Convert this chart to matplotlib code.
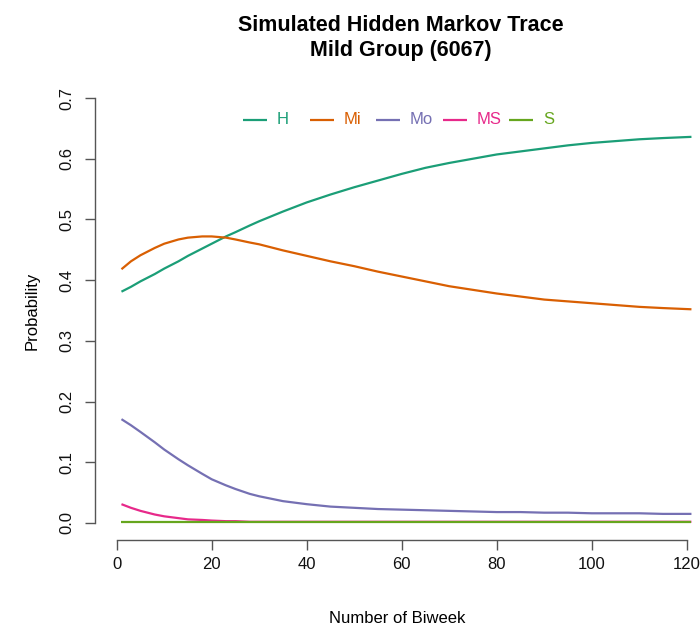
import matplotlib
matplotlib.use("Agg")
import matplotlib.pyplot as plt

plt.rcParams['font.family'] = ['Liberation Sans', 'DejaVu Sans']

# ---- data ----
biweek = [1, 3, 5, 8, 10, 13, 15, 18, 20, 23, 25, 28, 30, 35, 40, 45, 50, 55,
          60, 65, 70, 75, 80, 85, 90, 95, 100, 105, 110, 115, 121]
H = [0.381, 0.389, 0.398, 0.410, 0.419, 0.431, 0.440, 0.452, 0.460, 0.472,
     0.479, 0.490, 0.497, 0.513, 0.528, 0.541, 0.553, 0.564, 0.575, 0.585,
     0.593, 0.600, 0.607, 0.612, 0.617, 0.622, 0.626, 0.629, 0.632, 0.634, 0.636]
Mi = [0.418, 0.431, 0.441, 0.453, 0.460, 0.467, 0.470, 0.472, 0.472, 0.470,
      0.467, 0.462, 0.459, 0.449, 0.440, 0.431, 0.423, 0.414, 0.406, 0.398,
      0.390, 0.384, 0.378, 0.373, 0.368, 0.365, 0.362, 0.359, 0.356, 0.354, 0.352]
Mo = [0.171, 0.161, 0.150, 0.133, 0.121, 0.105, 0.095, 0.081, 0.072, 0.062,
      0.056, 0.048, 0.044, 0.036, 0.031, 0.027, 0.025, 0.023, 0.022, 0.021,
      0.020, 0.019, 0.018, 0.018, 0.017, 0.017, 0.016, 0.016, 0.016, 0.015, 0.015]
MS = [0.031, 0.025, 0.020, 0.014, 0.011, 0.008, 0.006, 0.005, 0.004, 0.003,
      0.003, 0.002, 0.002, 0.002, 0.002, 0.002, 0.002, 0.002, 0.002, 0.002,
      0.002, 0.002, 0.002, 0.002, 0.002, 0.002, 0.002, 0.002, 0.002, 0.002, 0.002]
S = [0.002, 0.002, 0.002, 0.002, 0.002, 0.002, 0.002, 0.002, 0.002, 0.002,
     0.002, 0.002, 0.002, 0.002, 0.002, 0.002, 0.002, 0.002, 0.002, 0.002,
     0.002, 0.002, 0.002, 0.002, 0.002, 0.002, 0.002, 0.002, 0.002, 0.002, 0.002]

labels = ["H", "Mi", "Mo", "MS", "S"]
series = [H, Mi, Mo, MS, S]
colors = ["#1B9E77", "#D95F02", "#7570B3", "#E7298A", "#66A61E"]
xticks = [0, 20, 40, 60, 80, 100, 120]
yticks = [0.0, 0.1, 0.2, 0.3, 0.4, 0.5, 0.6, 0.7]

# ---- figure ----
W, Hpx = 700, 629
fig = plt.figure(figsize=(W / 100, Hpx / 100), dpi=100)
left_px, right_px, top_px, bot_px = 95, 700, 81, 540
ax = fig.add_axes([left_px / W, 1 - bot_px / Hpx,
                   (right_px - left_px) / W, (bot_px - top_px) / Hpx])

LW = 1.6
for vals, c in zip(series, colors):
    ax.plot(biweek, vals, color=c, lw=LW, solid_capstyle='butt',
            solid_joinstyle='round')

ax.set_xlim(-4.57, 122.8)
ax.set_ylim(-0.028, 0.728)

for s in ['top', 'right']:
    ax.spines[s].set_visible(False)
for s in ['left', 'bottom']:
    ax.spines[s].set_color('#555555')
    ax.spines[s].set_linewidth(1.0)
ax.spines['left'].set_bounds(0.0, 0.7)
ax.spines['bottom'].set_bounds(0, 120)

ax.set_xticks(xticks)
ax.set_xticklabels([str(t) for t in xticks])
ax.set_yticks(yticks)
ax.set_yticklabels([f"{t:.1f}" for t in yticks], rotation=90, va='center')
ax.tick_params(axis='both', direction='out', length=7, width=1.0,
               color='#555555', labelsize=12, labelcolor='#111111')
ax.tick_params(axis='x', pad=5)
ax.tick_params(axis='y', pad=8)

ax.set_xlabel("Number of Biweek", fontsize=12, labelpad=28)
ax.set_ylabel("Probability", fontsize=12, labelpad=14)

# legend (horizontal, no frame), drawn in axes fraction
tr = ax.transAxes
leg_y = (bot_px - 120) / (bot_px - top_px)
start_px = 243
step_px = 66.5
seg_px = 24
gap_px = 10
for i, (lab, c) in enumerate(zip(labels, colors)):
    x0 = (start_px + i * step_px - left_px) / (right_px - left_px)
    x1 = x0 + seg_px / (right_px - left_px)
    ax.plot([x0, x1], [leg_y, leg_y], color=c, lw=LW, transform=tr,
            clip_on=False, solid_capstyle='butt')
    ax.text(x1 + gap_px / (right_px - left_px), leg_y, lab, color=c,
            fontsize=12, va='center', ha='left', transform=tr)

fig.text(401 / W, 1 - 38 / Hpx,
         "Simulated Hidden Markov Trace\nMild Group (6067)",
         ha='center', va='center', multialignment='center',
         fontsize=15.5, fontweight='bold', linespacing=1.3)

fig.savefig("out.png", dpi=100)
